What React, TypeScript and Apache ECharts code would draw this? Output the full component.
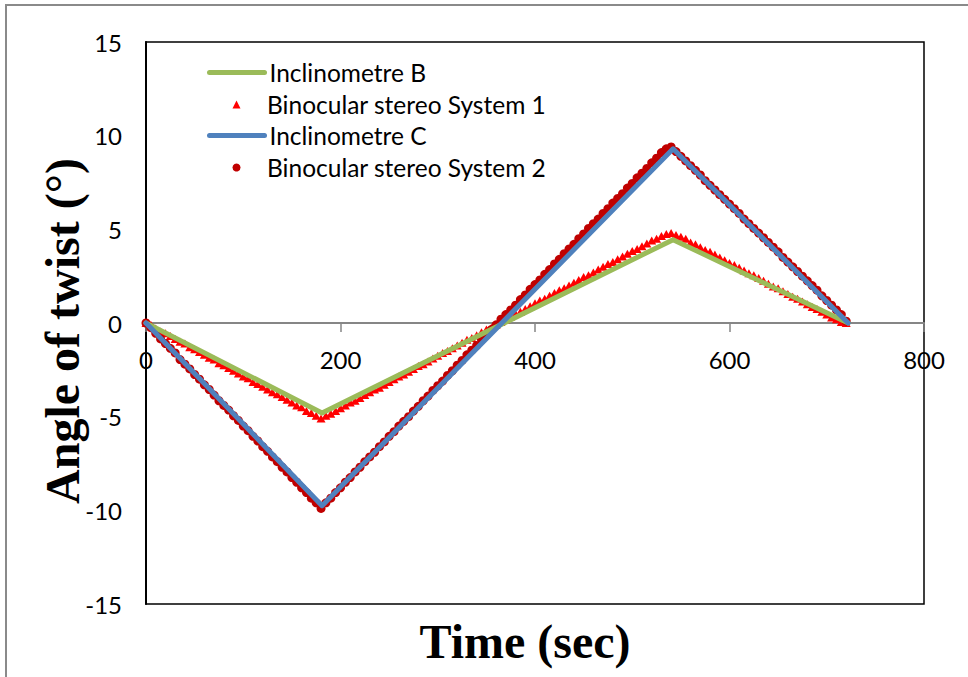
import { useEffect, useRef } from "react";
import * as echarts from "echarts";

// Inclinometer readings (vertices of the measured twist history)
const inclBTimes = [0, 181, 542, 722];
const inclBValues = [0, -4.8, 4.45, 0];
const inclCTimes = [0, 181, 542, 722];
const inclCValues = [0, -9.75, 9.3, 0];

// Binocular stereo sampling instants (sec)
const sampleTimes = [
  0, 5, 10, 15, 20, 25, 30, 35, 40, 45, 50, 55, 60, 65, 70, 75, 80, 85, 90, 95,
  100, 105, 110, 115, 120, 125, 130, 135, 140, 145, 150, 155, 160, 165, 170, 175, 180,
  185, 190, 195, 200, 205, 210, 215, 220, 225, 230, 235, 240, 245, 250, 255, 260, 265,
  270, 275, 280, 285, 290, 295, 300, 305, 310, 315, 320, 325, 330, 335, 340, 345, 350,
  355, 360, 365, 370, 375, 380, 385, 390, 395, 400, 405, 410, 415, 420, 425, 430, 435,
  440, 445, 450, 455, 460, 465, 470, 475, 480, 485, 490, 495, 500, 505, 510, 515, 520,
  525, 530, 535, 540, 545, 550, 555, 560, 565, 570, 575, 580, 585, 590, 595, 600, 605,
  610, 615, 620, 625, 630, 635, 640, 645, 650, 655, 660, 665, 670, 675, 680, 685, 690,
  695, 700, 705, 710, 715, 720,
];

const system1Values = [
  0, -0.1, -0.3, -0.45, -0.55, -0.7, -0.85, -1.0, -1.1, -1.3, -1.4, -1.55, -1.7, -1.85,
  -1.95, -2.15, -2.25, -2.4, -2.55, -2.7, -2.85, -2.95, -3.15, -3.25, -3.4, -3.55, -3.7,
  -3.8, -3.95, -4.1, -4.25, -4.4, -4.5, -4.7, -4.8, -4.95, -5.1,
  -4.95, -4.85, -4.7, -4.55, -4.4, -4.25, -4.15, -4.0, -3.85, -3.7,
  -3.55, -3.45, -3.3, -3.15, -3.0, -2.85, -2.75, -2.6, -2.45, -2.3,
  -2.2, -2.05, -1.9, -1.75, -1.6, -1.5, -1.35, -1.2, -1.05, -0.9,
  -0.8, -0.65, -0.5, -0.35, -0.25, -0.1, 0.05, 0.2, 0.35, 0.5,
  0.6, 0.75, 0.9, 1.05, 1.2, 1.3, 1.45, 1.6, 1.75, 1.85,
  2.0, 2.15, 2.3, 2.45, 2.55, 2.7, 2.85, 3.0, 3.15, 3.25,
  3.4, 3.55, 3.7, 3.85, 3.95, 4.1, 4.25, 4.4, 4.5, 4.65,
  4.75, 4.8,
  4.7, 4.6, 4.5, 4.3, 4.2, 4.05, 3.9, 3.8, 3.65, 3.5,
  3.35, 3.2, 3.1, 2.95, 2.8, 2.65, 2.55, 2.4, 2.25, 2.1,
  1.95, 1.85, 1.7, 1.55, 1.4, 1.3, 1.15, 1.0, 0.85, 0.75,
  0.6, 0.45, 0.3, 0.2, 0.05, 0.0,
];

const system2Values = [
  0, -0.25, -0.55, -0.85, -1.1, -1.35, -1.6, -1.95, -2.2, -2.45, -2.75, -3.0, -3.3, -3.55,
  -3.85, -4.15, -4.4, -4.65, -4.95, -5.2, -5.5, -5.75, -6.05, -6.3, -6.6, -6.85, -7.15,
  -7.4, -7.7, -7.95, -8.25, -8.5, -8.8, -9.05, -9.35, -9.6, -9.9,
  -9.6, -9.35, -9.05, -8.8, -8.5, -8.25, -7.95, -7.7, -7.4, -7.15,
  -6.9, -6.6, -6.35, -6.05, -5.8, -5.5, -5.25, -5.0, -4.7, -4.45,
  -4.15, -3.9, -3.6, -3.35, -3.1, -2.8, -2.55, -2.25, -2.0, -1.7,
  -1.45, -1.2, -0.9, -0.65, -0.35, -0.1, 0.2, 0.45, 0.7, 0.95,
  1.25, 1.5, 1.8, 2.05, 2.3, 2.6, 2.85, 3.15, 3.4, 3.7,
  3.95, 4.2, 4.5, 4.75, 5.05, 5.3, 5.55, 5.85, 6.1, 6.4,
  6.65, 6.9, 7.2, 7.45, 7.75, 8.0, 8.25, 8.55, 8.8, 9.1,
  9.3, 9.4,
  9.15, 8.9, 8.65, 8.4, 8.15, 7.9, 7.6, 7.35, 7.1, 6.85,
  6.6, 6.35, 6.1, 5.85, 5.55, 5.3, 5.05, 4.8, 4.55, 4.3,
  4.05, 3.8, 3.5, 3.25, 3.0, 2.75, 2.5, 2.25, 2.0, 1.75,
  1.45, 1.2, 0.95, 0.7, 0.45, 0.1,
];

const seriesNames = [
  "Inclinometre B",
  "Binocular stereo System 1",
  "Inclinometre C",
  "Binocular stereo System 2",
];

const xAxisTitle = "Time (sec)";
const yAxisTitle = "Angle of twist (°)";

const pair = (xs: number[], ys: number[]) => xs.map((x, i) => [x, ys[i]]);

const tickFont = "Lato, 'Open Sans', sans-serif";
const titleFont = "'Liberation Serif', 'Times New Roman', serif";

const legendTextStyle = {
  fontFamily: tickFont,
  fontSize: 24.5,
  color: "#000000",
  lineHeight: 24,
};

// one legend block per row so line keys and marker keys can have their own widths
const lineLegend = (name: string, top: number) => ({
  orient: "vertical",
  left: 202,
  top,
  itemWidth: 55,
  itemHeight: 8,
  textStyle: legendTextStyle,
  data: [
    {
      name,
      itemStyle: { opacity: 0 },
      lineStyle: { width: 5, cap: "round" },
    },
  ],
});

const markerLegend = (name: string, top: number) => ({
  orient: "vertical",
  left: 227.5,
  top,
  itemWidth: 8,
  itemHeight: 8,
  textStyle: { ...legendTextStyle, padding: [0, 0, 0, 21.5] },
  data: [name],
});

export default function App() {
  const ref = useRef<HTMLDivElement>(null);

  useEffect(() => {
    if (!ref.current) return;
    const chart = echarts.init(ref.current, null, { renderer: "svg" });
    chart.setOption({
      animation: false,
      backgroundColor: "#ffffff",
      grid: {
        left: 146,
        top: 42,
        right: 44,
        bottom: 73,
        show: true,
        borderColor: "#000000",
        borderWidth: 1.5,
        backgroundColor: "transparent",
        containLabel: false,
        outerBoundsMode: "none",
      },
      legend: [
        lineLegend(seriesNames[0], 55),
        markerLegend(seriesNames[1], 87),
        lineLegend(seriesNames[2], 118),
        markerLegend(seriesNames[3], 150),
      ],
      xAxis: {
        type: "value",
        min: 0,
        max: 800,
        interval: 200,
        axisLine: {
          show: true,
          onZero: true,
          lineStyle: { color: "#868686", width: 2 },
        },
        axisTick: {
          show: true,
          inside: false,
          length: 9,
          lineStyle: { color: "#868686", width: 1.5 },
        },
        axisLabel: {
          // labels sit just under the zero line (ECharts 6 anchors them at the grid bottom)
          margin: -257,
          fontFamily: tickFont,
          fontSize: 24,
          color: "#000000",
        },
        splitLine: { show: false },
        name: xAxisTitle,
        nameLocation: "middle",
        nameGap: 13,
        nameMoveOverlap: false,
        nameTextStyle: {
          fontFamily: titleFont,
          fontWeight: "bold",
          fontSize: 48,
          color: "#000000",
          padding: [0, 20, 0, 0],
        },
      },
      yAxis: {
        type: "value",
        min: -15,
        max: 15,
        interval: 5,
        axisLine: {
          show: true,
          onZero: false,
          lineStyle: { color: "#000000", width: 2 },
        },
        axisTick: { show: false },
        axisLabel: {
          margin: 24,
          fontFamily: tickFont,
          fontSize: 24,
          color: "#000000",
        },
        splitLine: { show: false },
        name: yAxisTitle,
        nameLocation: "middle",
        nameRotate: 90,
        nameGap: 60,
        nameMoveOverlap: false,
        nameTextStyle: {
          fontFamily: titleFont,
          fontWeight: "bold",
          fontSize: 48,
          color: "#000000",
          padding: [0, 16, 0, 0],
        },
      },
      graphic: [
        {
          type: "polyline",
          silent: true,
          shape: { points: [[6, 677], [6, 5], [968, 5]] },
          style: { stroke: "#8a8a8a", lineWidth: 2, fill: null },
        },
      ],
      series: [
        {
          name: seriesNames[0],
          type: "line",
          data: pair(inclBTimes, inclBValues),
          symbol: "none",
          lineStyle: { color: "#9bbb59", width: 5, cap: "round", join: "round" },
          itemStyle: { color: "#9bbb59" },
        },
        {
          name: seriesNames[1],
          type: "scatter",
          data: pair(sampleTimes, system1Values),
          symbol: "triangle",
          symbolSize: [9, 8],
          itemStyle: { color: "#ff0000", opacity: 1 },
        },
        {
          name: seriesNames[2],
          type: "line",
          data: pair(inclCTimes, inclCValues),
          symbol: "none",
          lineStyle: { color: "#4f81bd", width: 5, cap: "round", join: "round" },
          itemStyle: { color: "#4f81bd" },
        },
        {
          name: seriesNames[3],
          type: "scatter",
          data: pair(sampleTimes, system2Values),
          symbol: "circle",
          symbolSize: 9,
          itemStyle: { color: "#c00000", opacity: 1 },
        },
      ],
    });
    return () => chart.dispose();
  }, []);

  return (
    <div
      ref={ref}
      style={{
        position: "fixed",
        left: 0,
        top: 0,
        width: 968,
        height: 677,
        background: "#ffffff",
      }}
    />
  );
}
